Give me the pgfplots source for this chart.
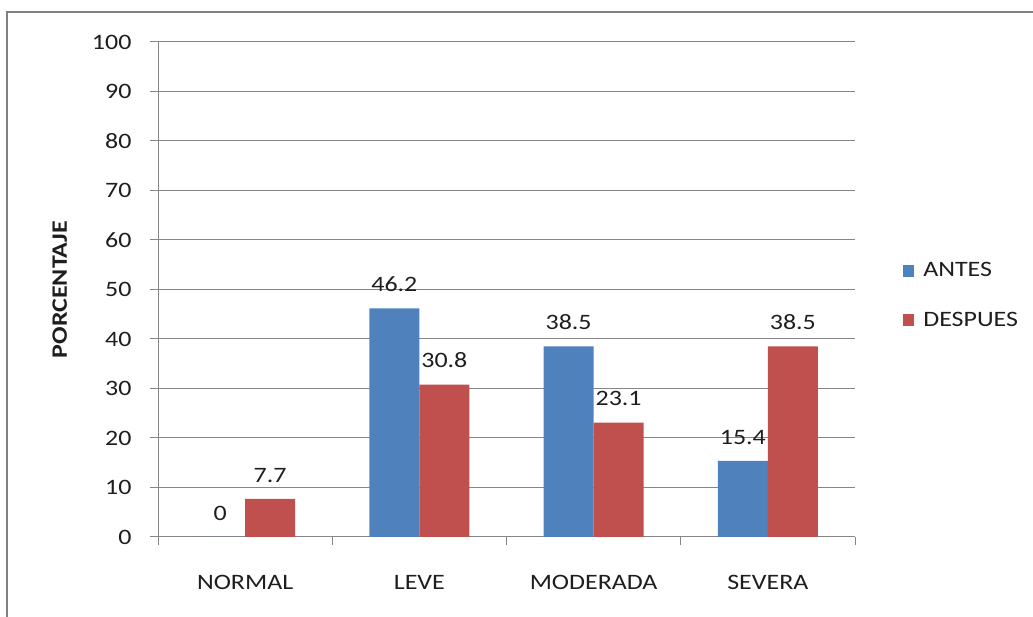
\documentclass[border=0pt]{standalone}
\usepackage{pgfplots}
\pgfplotsset{compat=1.18}
\usepackage{fontspec}
\setmainfont{Carlito}[FakeStretch=1.18]
\definecolor{barblue}{RGB}{79,129,189}
\definecolor{barred}{RGB}{192,80,77}
\definecolor{axgray}{RGB}{134,134,134}
\definecolor{txt}{RGB}{30,30,30}
\begin{document}
\begin{tikzpicture}[x=1pt,y=1pt]
\useasboundingbox (0,0) rectangle (1033,617);
\begin{axis}[
  at={(158pt,80pt)}, anchor=south west,
  scale only axis, width=697pt, height=495pt,
  ybar=0pt, bar width=50pt,
  xmin=-0.5, xmax=3.5, ymin=0, ymax=100,
  xtick={0,1,2,3},
  xticklabels={NORMAL,LEVE,MODERADA,SEVERA},
  minor xtick={-0.5,0.5,1.5,2.5,3.5},
  ytick={0,10,...,100},
  axis x line*=bottom, axis y line*=left,
  axis line style={axgray, line width=1pt, -},
  tick align=outside,
  major tick length=8pt, minor tick length=8pt,
  x tick style={draw=none},
  minor x tick style={draw=axgray, line width=1pt},
  y tick style={axgray, line width=1pt},
  ymajorgrids, grid style={axgray, line width=1pt},
  /pgf/number format/assume math mode=true,
  tick label style={font=\fontsize{22}{26}\selectfont, text=txt},
  xticklabel style={yshift=-27pt},
  yticklabel style={xshift=-15pt},
  ylabel={\textbf{PORCENTAJE}},
  ylabel style={at={(axis description cs:-0.141,0.5)}, anchor=center, font=\fontsize{22}{26}\selectfont, text=txt},
  nodes near coords,
  every node near coord/.append style={font=\fontsize{22}{26}\selectfont, text=txt, anchor=south, yshift=13pt},
  legend style={at={(1.069,0.488)}, anchor=west, draw=none, fill=none,
    font=\fontsize{22}{26}\selectfont, text=txt, row sep=30pt,
    cells={anchor=west}, inner sep=0pt},
  legend image code/.code={\fill[#1] (0pt,-6pt) rectangle (11pt,6pt); \path (18pt,0pt);},
]
\addplot[fill=barblue, draw=none] coordinates {(0,0) (1,46.2) (2,38.5) (3,15.4)};
\addplot[fill=barred, draw=none] coordinates {(0,7.7) (1,30.8) (2,23.1) (3,38.5)};
\legend{ANTES, DESPUES}
\end{axis}
\draw[gray, line width=2pt] (7,-20) -- (7,605) -- (1060,605);
\end{tikzpicture}
\end{document}
